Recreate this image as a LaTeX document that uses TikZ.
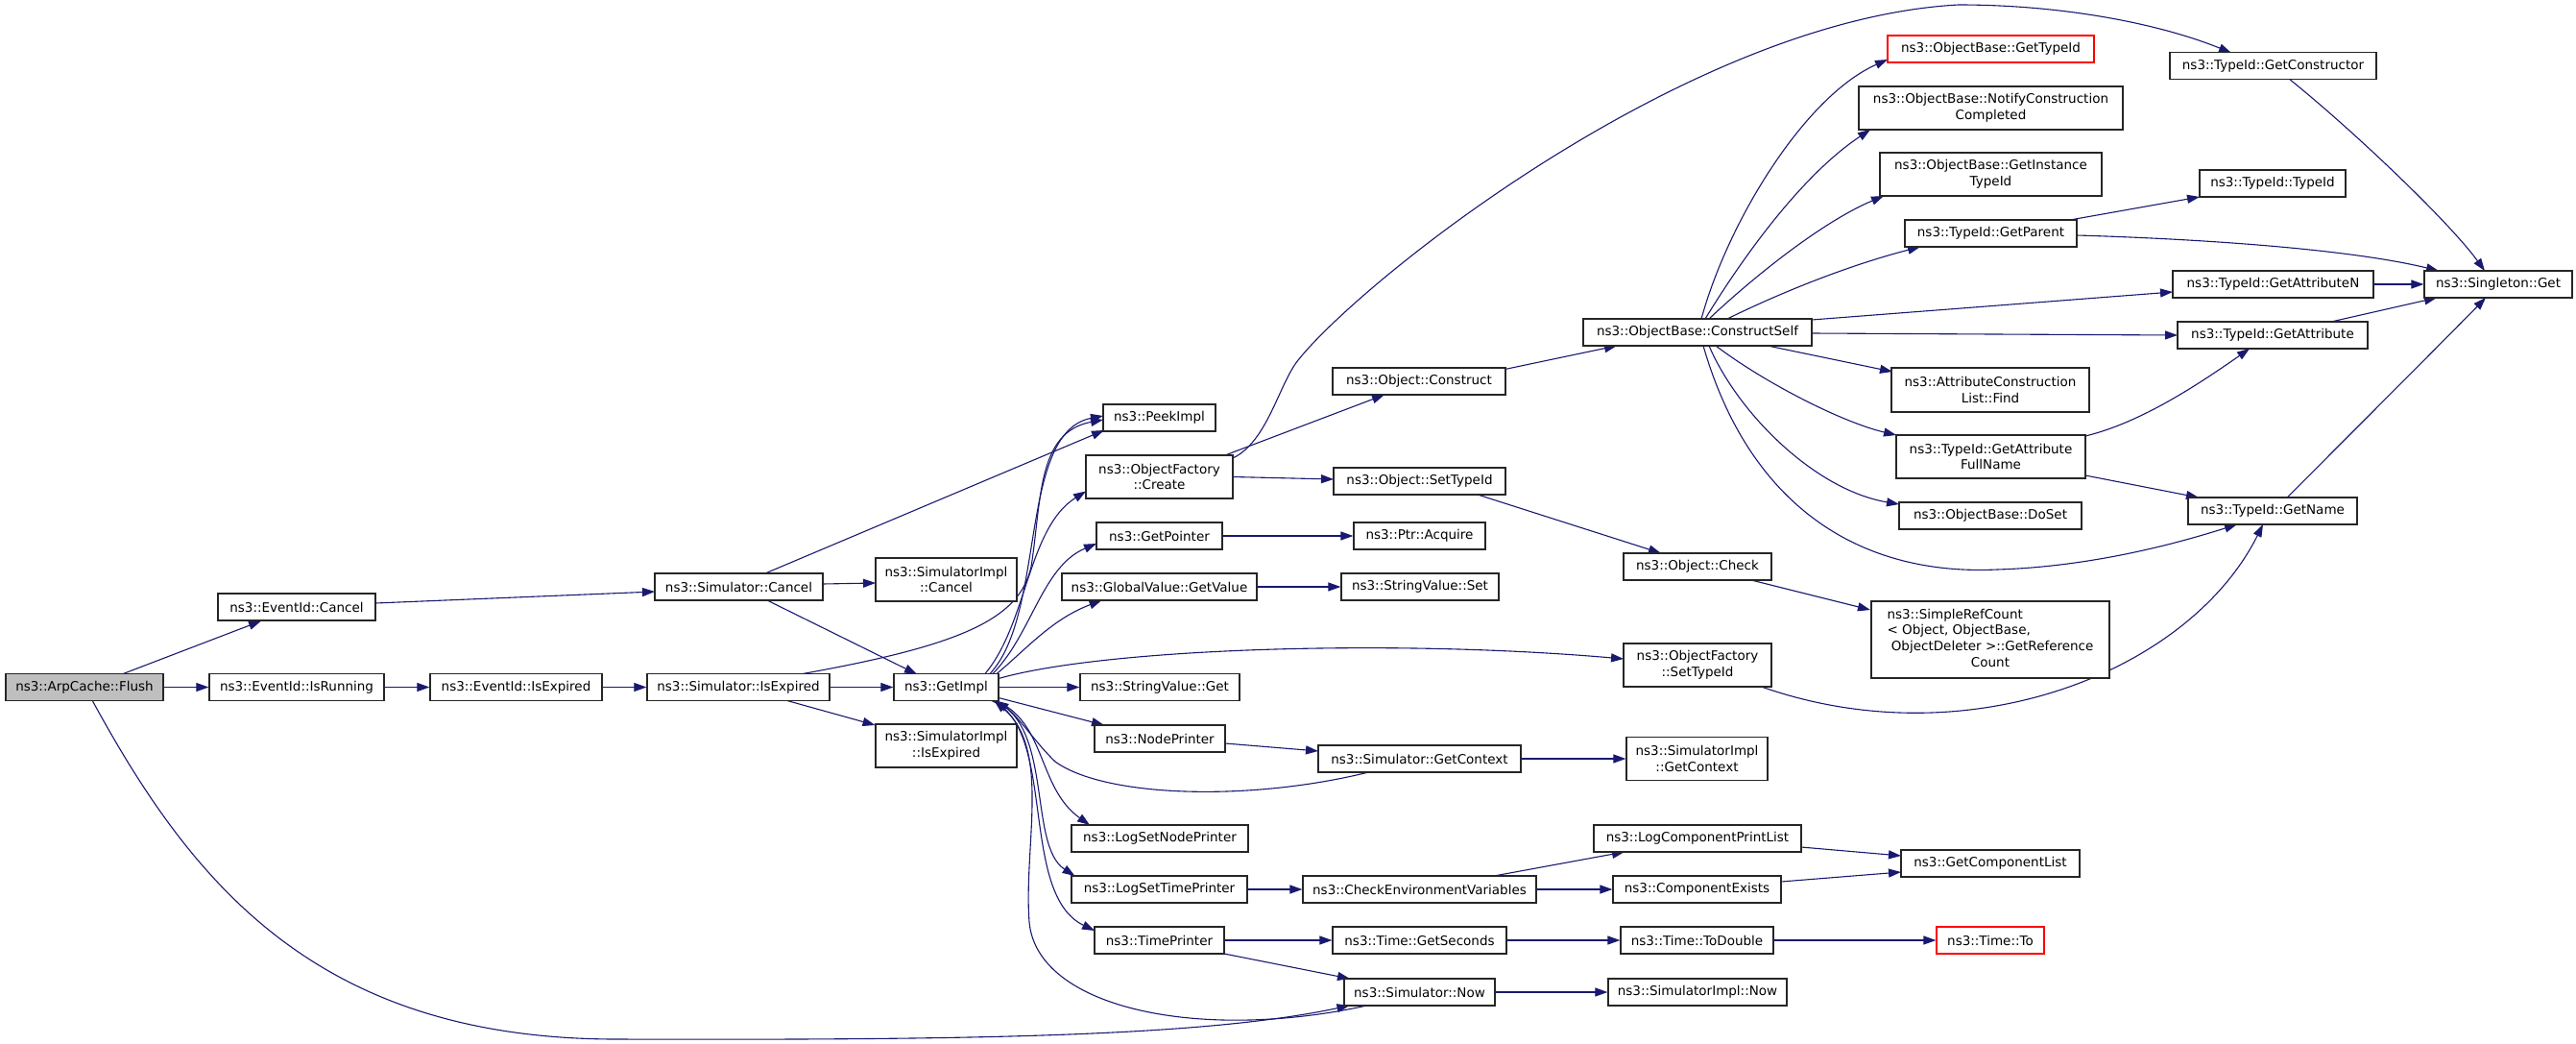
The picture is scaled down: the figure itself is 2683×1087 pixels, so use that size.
\documentclass[tikz,border=0pt]{standalone}
\usepackage{fontspec}
\setmainfont{DejaVu Sans}
\usetikzlibrary{arrows.meta,calc}
\definecolor{edgeblue}{HTML}{191970}
\definecolor{boxgray}{HTML}{BFBFBF}
\pgfdeclarelayer{background}
\pgfsetlayers{background,main}
\begin{document}
\begin{tikzpicture}[x=1pt,y=-1pt,
  box/.style={draw=black!85, line width=1.2pt, fill=white, inner sep=0pt,
    minimum height=28pt, align=center, font=\fontsize{13.5}{16.7}\selectfont},
  redbox/.style={box, draw=red},
  conn/.style={draw=edgeblue, line width=1.1pt, -{Triangle[length=13pt,width=9pt]}}]
\useasboundingbox (0,0) rectangle (2683,1087);
% ---- nodes ----
\node[box, fill=boxgray, minimum width=164] (flush) at (88,715.5) {ns3::ArpCache::Flush};
\node[box, minimum width=164] (evcancel) at (309,632) {ns3::EventId::Cancel};
\node[box, minimum width=182] (evisrunning) at (309,715.5) {ns3::EventId::IsRunning};
\node[box, minimum width=179] (evisexpired) at (537.5,715.5) {ns3::EventId::IsExpired};
\node[box, minimum width=175] (simcancel) at (769.5,611) {ns3::Simulator::Cancel};
\node[box, minimum width=190] (simisexpired) at (769,715.5) {ns3::Simulator::IsExpired};
\node[box, minimum width=147, minimum height=45] (simimplcancel) at (985.5,603.5) {ns3::SimulatorImpl\\::Cancel};
\node[box, minimum width=109] (getimpl) at (985.5,715.5) {ns3::GetImpl};
\node[box, minimum width=147, minimum height=45] (simimplisexpired) at (985.5,776.5) {ns3::SimulatorImpl\\::IsExpired};
\node[box, minimum width=117] (peekimpl) at (1207.5,435) {ns3::PeekImpl};
\node[box, minimum width=153, minimum height=45] (ofcreate) at (1207.5,496.5) {ns3::ObjectFactory\\::Create};
\node[box, minimum width=131] (getpointer) at (1207.5,558) {ns3::GetPointer};
\node[box, minimum width=203] (globalvalue) at (1207.5,611) {ns3::GlobalValue::GetValue};
\node[box, minimum width=166] (stringget) at (1208,715.5) {ns3::StringValue::Get};
\node[box, minimum width=136] (nodeprinter) at (1208,769) {ns3::NodePrinter};
\node[box, minimum width=184] (logsetnode) at (1208,873) {ns3::LogSetNodePrinter};
\node[box, minimum width=183] (logsettime) at (1207.5,926) {ns3::LogSetTimePrinter};
\node[box, minimum width=135] (timeprinter) at (1207.5,979) {ns3::TimePrinter};
\node[box, minimum width=180] (objconstruct) at (1478,397) {ns3::Object::Construct};
\node[box, minimum width=179] (objsettypeid) at (1478.5,501) {ns3::Object::SetTypeId};
\node[box, minimum width=137] (ptracquire) at (1478.5,558) {ns3::Ptr::Acquire};
\node[box, minimum width=164] (stringset) at (1479,611) {ns3::StringValue::Set};
\node[box, minimum width=211] (simgetcontext) at (1478.5,790) {ns3::Simulator::GetContext};
\node[box, minimum width=243] (checkenv) at (1478.5,926) {ns3::CheckEnvironmentVariables};
\node[box, minimum width=181] (timegetseconds) at (1478.5,979) {ns3::Time::GetSeconds};
\node[box, minimum width=157] (simnow) at (1478.5,1033) {ns3::Simulator::Now};
\node[box, minimum width=238] (constructself) at (1768,346) {ns3::ObjectBase::ConstructSelf};
\node[box, minimum width=154] (objcheck) at (1768,590) {ns3::Object::Check};
\node[box, minimum width=154, minimum height=45] (ofsettypeid) at (1768,692.5) {ns3::ObjectFactory\\::SetTypeId};
\node[box, minimum width=147, minimum height=45] (simimplgetcontext) at (1767.5,790) {ns3::SimulatorImpl\\::GetContext};
\node[box, minimum width=216] (logcomp) at (1768,873) {ns3::LogComponentPrintList};
\node[box, minimum width=175] (compexists) at (1767.5,926) {ns3::ComponentExists};
\node[box, minimum width=159] (todouble) at (1767.5,979) {ns3::Time::ToDouble};
\node[box, minimum width=186] (simimplnow) at (1768,1033) {ns3::SimulatorImpl::Now};
\node[redbox, minimum width=215] (gettypeid) at (2073.5,51) {ns3::ObjectBase::GetTypeId};
\node[box, minimum width=275, minimum height=45] (notify) at (2073.5,112.5) {ns3::ObjectBase::NotifyConstruction\\Completed};
\node[box, minimum width=231, minimum height=45] (getinstance) at (2073.5,181.5) {ns3::ObjectBase::GetInstance\\TypeId};
\node[box, minimum width=179] (getparent) at (2073.5,243) {ns3::TypeId::GetParent};
\node[box, minimum width=206, minimum height=46] (attrfind) at (2073,406) {ns3::AttributeConstruction\\List::Find};
\node[box, minimum width=197, minimum height=45] (getattrfullname) at (2073.5,475.5) {ns3::TypeId::GetAttribute\\FullName};
\node[box, minimum width=190] (doset) at (2073,537) {ns3::ObjectBase::DoSet};
\node[box, minimum width=248, minimum height=80] (simplerefcount) at (2073,666) {%
  \begin{tabular}{@{}l@{}}ns3::SimpleRefCount\\
  < Object, ObjectBase,\\
  \multicolumn{1}{@{}c@{}}{\ ObjectDeleter >::GetReference}\\
  \multicolumn{1}{@{}c@{}}{Count}\end{tabular}};
\node[box, minimum width=186] (getcomplist) at (2073,899) {ns3::GetComponentList};
\node[redbox, minimum width=112] (timeto) at (2073,979) {ns3::Time::To};
\node[box, minimum width=215] (getconstructor) at (2367.5,68.5) {ns3::TypeId::GetConstructor};
\node[box, minimum width=152] (typeidtypeid) at (2367,191) {ns3::TypeId::TypeId};
\node[box, minimum width=209] (getattrN) at (2367.5,296) {ns3::TypeId::GetAttributeN};
\node[box, minimum width=198] (getattribute) at (2367,349) {ns3::TypeId::GetAttribute};
\node[box, minimum width=176] (getname) at (2367,532) {ns3::TypeId::GetName};
\node[box, minimum width=154] (singleton) at (2602,296) {ns3::Singleton::Get};
% ---- edges ----
\begin{pgfonlayer}{background}
\draw[conn] ($(flush)+(39,-13.5)$) -- ($(evcancel)+(-37,14.5)$);
\draw[conn] (flush.east) -- (evisrunning.west);
\draw[conn] ($(flush)+(8,13.5)$) .. controls (200,920) and (330,1081) .. (640,1082)
   .. controls (1000,1083) and (1250,1080) .. ($(simnow)+(-73,14)$);
\draw[conn] ($(evcancel)+(82,-4)$) -- ($(simcancel)+(-87.5,5)$);
\draw[conn] (evisrunning.east) -- (evisexpired.west);
\draw[conn] (evisexpired.east) -- (simisexpired.west);
\draw[conn] ($(simcancel)+(87.5,-3)$) -- ($(simimplcancel)+(-73.5,3.5)$);
\draw[conn] ($(simcancel)+(27.5,-14)$) -- ($(peekimpl)+(-57.5,13)$);
\draw[conn] ($(simcancel)+(29.5,14)$) -- ($(getimpl)+(-30.5,-13.5)$);
\draw[conn] (simisexpired.east) -- (getimpl.west);
\draw[conn] ($(simisexpired)+(49,13.5)$) -- ($(simimplisexpired)+(-74,-21.5)$);
\draw[conn] ($(simisexpired)+(67,-14)$) .. controls (1000,672) and (1062,645) .. (1074,590)
   .. controls (1085,520) and (1080,450) .. ($(peekimpl)+(-58.5,2)$);
\draw[conn] ($(getimpl)+(45,-13.5)$) .. controls (1090,640) and (1060,450) .. ($(peekimpl)+(-58.5,-2)$);
\draw[conn] ($(getimpl)+(40,-13.5)$) .. controls (1070,650) and (1070,550) .. ($(ofcreate)+(-76.5,15)$);
\draw[conn] ($(getimpl)+(48,-13.5)$) .. controls (1075,660) and (1085,590) .. ($(getpointer)+(-65.5,8)$);
\draw[conn] ($(getimpl)+(52,-13.5)$) .. controls (1070,675) and (1095,645) .. ($(globalvalue)+(-60,14)$);
\draw[conn] ($(getimpl)+(54.5,-9)$) .. controls (1150,675) and (1450,665) .. ($(ofsettypeid)+(-77,-6.5)$);
\draw[conn] (getimpl.east) -- (stringget.west);
\draw[conn] ($(getimpl)+(54.5,11)$) -- ($(nodeprinter)+(-58,-14)$);
\draw[conn] ($(getimpl)+(50,13.5)$) .. controls (1090,750) and (1080,820) .. ($(logsetnode)+(-73,-14)$);
\draw[conn] ($(getimpl)+(48,13.5)$) .. controls (1098,752) and (1070,880) .. ($(logsettime)+(-88,-14)$);
\draw[conn] ($(getimpl)+(46,13.5)$) .. controls (1102,756) and (1060,930) .. ($(timeprinter)+(-67.5,-10)$);
\draw[conn] ($(simgetcontext)+(-53,14)$) .. controls (1300,835) and (1150,830) .. (1099,793)
   .. controls (1080,775) and (1060,745) .. ($(getimpl)+(52,14)$);
\draw[conn] ($(simnow)+(-55,14)$) .. controls (1250,1085) and (1080,1050) .. (1072,960)
   .. controls (1066,880) and (1095,780) .. ($(getimpl)+(50,14)$);
\draw[conn] ($(ofcreate)+(68.5,-22.5)$) -- ($(objconstruct)+(-36,14)$);
\draw[conn] ($(ofcreate)+(76.5,0)$) -- ($(objsettypeid)+(-89.5,-2)$);
\draw[conn] ($(ofcreate)+(76.5,-19.5)$) .. controls (1320,460) and (1332,400) .. (1352,375)
   .. controls (1420,290) and (1760,20) .. (2040,5)
   .. controls (2150,5) and (2250,25) .. ($(getconstructor)+(-43.5,-13.5)$);
\draw[conn] ($(objconstruct)+(87,-12)$) -- ($(constructself)+(-84,14)$);
\draw[conn] ($(objsettypeid)+(60.5,14)$) -- ($(objcheck)+(-38,-14)$);
\draw[conn] ($(objcheck)+(56,14)$) -- ($(simplerefcount)+(-125,-31)$);
\draw[conn] ($(ofsettypeid)+(68,23)$) .. controls (2050,790) and (2280,700) .. ($(getname)+(-10,14)$);
\draw[conn] ($(constructself)+(4,-14)$) .. controls (1800,230) and (1880,100) .. ($(gettypeid)+(-107.5,11)$);
\draw[conn] ($(constructself)+(8,-14)$) .. controls (1820,260) and (1880,180) .. ($(notify)+(-125.5,22.5)$);
\draw[conn] ($(constructself)+(12,-14)$) .. controls (1830,285) and (1900,230) .. ($(getinstance)+(-111.5,22.5)$);
\draw[conn] ($(constructself)+(31,-14)$) .. controls (1860,302) and (1930,275) .. ($(getparent)+(-73.5,14)$);
\draw[conn] ($(constructself)+(119,-13)$) -- ($(getattrN)+(-104.5,8)$);
\draw[conn] ($(constructself)+(119,1)$) -- ($(getattribute)+(-99,0)$);
\draw[conn] ($(constructself)+(73,14)$) -- ($(attrfind)+(-102,-19)$);
\draw[conn] ($(constructself)+(19,14)$) .. controls (1840,400) and (1920,440) .. ($(getattrfullname)+(-98.5,-22.5)$);
\draw[conn] ($(constructself)+(12,14)$) .. controls (1810,430) and (1890,510) .. ($(doset)+(-95,-12)$);
\draw[conn] ($(constructself)+(6,14)$) .. controls (1820,520) and (1930,600) .. (2080,593)
   .. controls (2180,590) and (2270,565) .. ($(getname)+(-37,14)$);
\draw[conn] ($(getparent)+(82.5,-14)$) -- ($(typeidtypeid)+(-76,14)$);
\draw[conn] ($(getparent)+(89.5,2)$) .. controls (2300,249) and (2450,260) .. ($(singleton)+(-62,-14)$);
\draw[conn] ($(getconstructor)+(16.5,13.5)$) .. controls (2450,135) and (2550,230) .. ($(singleton)+(-14,-14)$);
\draw[conn] (getattrN.east) -- (singleton.west);
\draw[conn] ($(getattribute)+(61,-14)$) -- ($(singleton)+(-64,14)$);
\draw[conn] ($(getname)+(15,-14)$) .. controls (2450,450) and (2540,360) .. ($(singleton)+(-13,14)$);
\draw[conn] ($(getattrfullname)+(98.5,-21.5)$) .. controls (2230,440) and (2290,400) .. ($(getattribute)+(-24,14)$);
\draw[conn] ($(getattrfullname)+(98.5,19.5)$) -- ($(getname)+(-77,-14)$);
\draw[conn] (getpointer.east) -- (ptracquire.west);
\draw[conn] (globalvalue.east) -- (stringset.west);
\draw[conn] ($(nodeprinter)+(68,5)$) -- ($(simgetcontext)+(-105.5,-8)$);
\draw[conn] (simgetcontext.east) -- (simimplgetcontext.west);
\draw[conn] (logsettime.east) -- (checkenv.west);
\draw[conn] ($(checkenv)+(77.5,-14)$) -- ($(logcomp)+(-76,14)$);
\draw[conn] (checkenv.east) -- (compexists.west);
\draw[conn] ($(logcomp)+(108,9)$) -- ($(getcomplist)+(-93,-8)$);
\draw[conn] ($(compexists)+(87.5,-8)$) -- ($(getcomplist)+(-93,9)$);
\draw[conn] (timeprinter.east) -- (timegetseconds.west);
\draw[conn] ($(timeprinter)+(67.5,14)$) -- ($(simnow)+(-72.5,-14)$);
\draw[conn] (timegetseconds.east) -- (todouble.west);
\draw[conn] (todouble.east) -- (timeto.west);
\draw[conn] (simnow.east) -- (simimplnow.west);
\end{pgfonlayer}
\end{tikzpicture}
\end{document}
